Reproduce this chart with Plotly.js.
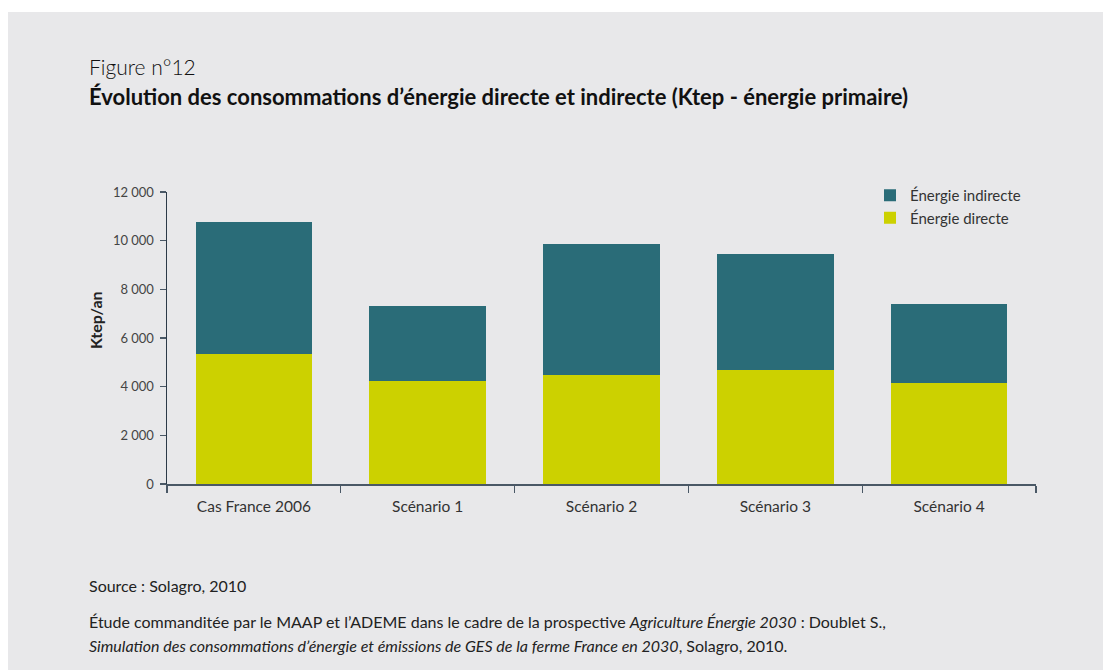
<!DOCTYPE html>
<html>
<head>
<meta charset="utf-8">
<script src="https://cdn.plot.ly/plotly-3.0.1.min.js"></script>
<style>
  body { margin: 0; background: #ffffff; }
  #chart { position: absolute; left: 8px; top: 12px; width: 1095px; height: 658px; }
</style>
</head>
<body>
<div id="chart"></div>
<script>
// Chart values (Ktep/an)
var categories = ['Cas France 2006', 'Scénario 1', 'Scénario 2', 'Scénario 3', 'Scénario 4'];
var directe   = [5350, 4250, 4500, 4700, 4150];
var indirecte = [5400, 3050, 5350, 4750, 3250];
var yTicks = [0, 2000, 4000, 6000, 8000, 10000, 12000];
var yTickText = ['0', '2\u202f000', '4\u202f000', '6\u202f000', '8\u202f000', '10\u202f000', '12\u202f000'];

var colDirecte = '#ccd100';
var colIndirecte = '#2a6c78';
var bg = '#e8e8ea';
var font = 'Lato, "Open Sans", sans-serif';

// plot area in page pixels (div is offset by 8,12)
var W = 1095, H = 658;
var mL = 159, mR = 67, mT = 180, mB = 186;
var pw = W - mL - mR, ph = H - mT - mB;
// page pixel -> paper coords
function px(x) { return (x - 8 - mL) / pw; }
function py(y) { return 1 - (y - 12 - mT) / ph; }

var data = [
  {
    type: 'bar',
    name: 'Énergie directe',
    x: categories,
    y: directe,
    marker: {color: colDirecte},
    hoverinfo: 'skip'
  },
  {
    type: 'bar',
    name: 'Énergie indirecte',
    x: categories,
    y: indirecte,
    marker: {color: colIndirecte},
    hoverinfo: 'skip'
  }
];

function note(text, x, y, size, extra) {
  var a = {
    text: text, xref: 'paper', yref: 'paper', x: px(x), y: py(y),
    xanchor: 'left', yanchor: 'middle', showarrow: false,
    font: {family: font, size: size, color: '#222'}
  };
  for (var k in extra) a[k] = extra[k];
  return a;
}

var layout = {
  width: W,
  height: H,
  margin: {l: mL, r: mR, t: mT, b: mB, pad: 0},
  paper_bgcolor: bg,
  plot_bgcolor: bg,
  barmode: 'stack',
  bargap: 0.33,
  showlegend: true,
  legend: {
    x: px(870), y: py(179), xanchor: 'left', yanchor: 'top',
    traceorder: 'reversed',
    bgcolor: 'rgba(0,0,0,0)',
    font: {family: font, size: 15, color: '#333'},
    itemclick: false
  },
  xaxis: {
    type: 'category',
    showline: true, linecolor: '#4a5866', linewidth: 1.5,
    ticks: 'outside', tickson: 'boundaries', ticklen: 7, tickcolor: '#4a5866', tickwidth: 1.2,
    ticklabelstandoff: 8,
    showgrid: false, zeroline: false,
    tickfont: {family: font, size: 15.5, color: '#333'}
  },
  yaxis: {
    range: [0, 12000],
    tickvals: yTicks,
    ticktext: yTickText,
    showline: true, linecolor: '#2c3a48', linewidth: 1.5,
    ticks: 'outside', ticklen: 6, tickcolor: '#4a5866', tickwidth: 1.2,
    ticklabelstandoff: 3,
    showgrid: false, zeroline: false,
    tickfont: {family: font, size: 13, color: '#444'}
  },
  annotations: [
    note('Figure n°12', 87, 67, 21, {font: {family: font, size: 21, color: '#111', weight: 300}}),
    note('<b>Évolution des consommations d\u2019énergie directe et indirecte (Ktep - énergie primaire)</b>', 87, 97, 22, {font: {family: font, size: 22, color: '#111'}}),
    note('<b>Ktep/an</b>', 95, 320, 16, {textangle: -90, xanchor: 'center'}),
    note('Source\u202f: Solagro, 2010', 87, 585, 16),
    note('Étude commanditée par le MAAP et l\u2019ADEME dans le cadre de la prospective <i>Agriculture Énergie 2030</i>\u202f: Doublet S.,', 87, 621, 16),
    note('<i>Simulation des consommations d\u2019énergie et émissions de GES de la ferme France en 2030</i>, Solagro, 2010.', 87, 645, 16)
  ]
};

Plotly.newPlot('chart', data, layout, {displayModeBar: false, staticPlot: true});
</script>
</body>
</html>
